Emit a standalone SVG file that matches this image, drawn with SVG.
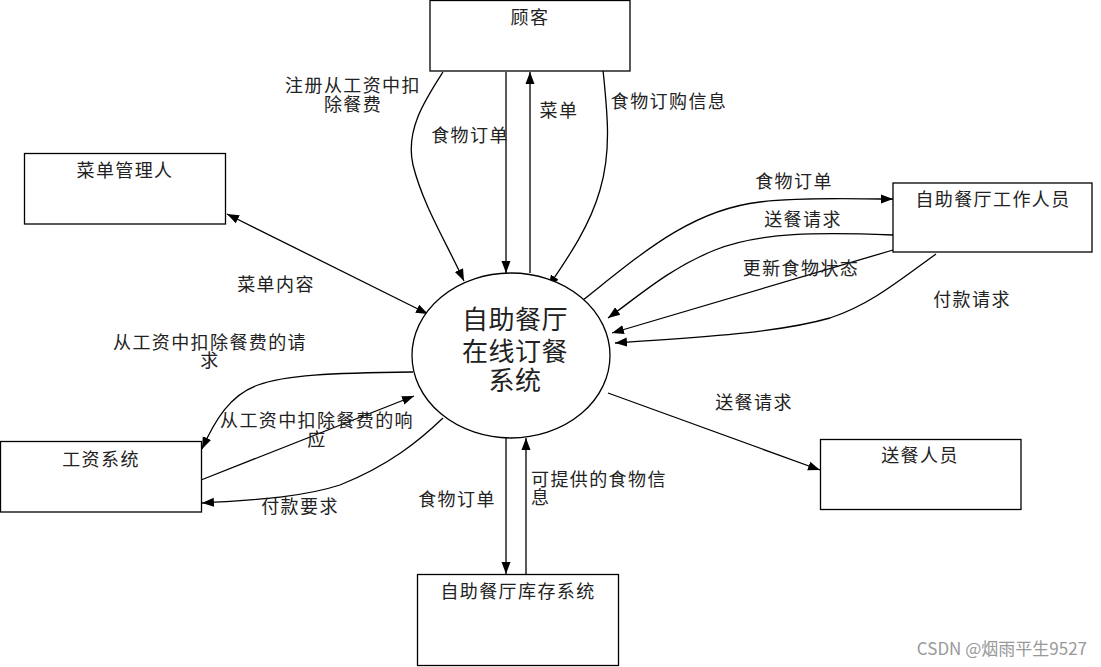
<svg xmlns="http://www.w3.org/2000/svg" width="1101" height="667" viewBox="0 0 1101 667">
<style>
.box{fill:#fff;stroke:#000;stroke-width:1.3}
.t{font-family:"Noto Sans CJK SC","Liberation Sans",sans-serif;font-size:18px;letter-spacing:1.4px;fill:#222;text-anchor:middle}
.l{text-anchor:start}
.big{font-size:26px;letter-spacing:0.5px}
.c{fill:none;stroke:#000;stroke-width:1.3;marker-end:url(#a)}
.wm{font-family:"Noto Sans CJK SC","Liberation Sans",sans-serif;font-size:17px;fill:#999;text-anchor:end}
</style>
<defs>
<marker id="a" viewBox="0 0 12 12" refX="12" refY="6" markerWidth="12" markerHeight="12" markerUnits="userSpaceOnUse" orient="auto-start-reverse">
<path d="M0,1.5 L12,6 L0,10.5z" fill="#000"/>
</marker>
</defs>
<rect width="1101" height="667" fill="#fff"/>
<g id="connectors">
<path class="c" d="M443,72 C425,100 405,130 413,165 C423,205 445,240 464,281"/>
<path class="c" d="M506,72 L506,273"/>
<path class="c" d="M530,273 L530,72"/>
<path class="c" d="M603,70 C607,110 612,150 600,190 C590,225 570,255 548,287"/>
<path class="c" style="marker-start:url(#a)" d="M227,214 L428,314"/>
<path class="c" d="M583,300 C640,255 690,210 760,202 C800,197 850,199 893,199"/>
<path class="c" d="M893,235 C820,232 760,232 715,250 C670,268 640,295 608,318"/>
<path class="c" d="M893,250 L612,333"/>
<path class="c" d="M936,254 C900,280 870,305 830,318 C770,335 680,338 615,343"/>
<path class="c" d="M413,372 C330,373 285,375 258,385 C230,395 215,420 202,449"/>
<path class="c" d="M201,480 L414,396"/>
<path class="c" d="M443,418 C420,440 390,465 340,485 C300,498 250,500 202,503"/>
<path class="c" d="M506,438 L506,574"/>
<path class="c" d="M526,574 L526,438"/>
<path class="c" d="M608,393 L820,470"/>
</g>
<g id="customer"><rect class="box" x="430" y="0.5" width="200" height="70.5"/><text class="t" x="530" y="24">顾客</text></g>
<g id="menu-manager"><rect class="box" x="24.5" y="153.5" width="201" height="70.5"/><text class="t" x="125" y="177">菜单管理人</text></g>
<g id="staff"><rect class="box" x="893" y="183" width="199" height="69"/><text class="t" x="993" y="206">自助餐厅工作人员</text></g>
<g id="delivery"><rect class="box" x="820.5" y="439.5" width="200.5" height="70"/><text class="t" x="920" y="462">送餐人员</text></g>
<g id="payroll"><rect class="box" x="0.5" y="441.5" width="201" height="70.5"/><text class="t" x="101" y="466">工资系统</text></g>
<g id="inventory"><rect class="box" x="417.5" y="574.5" width="201" height="91"/><text class="t" x="518" y="598">自助餐厅库存系统</text></g>
<g id="system"><ellipse class="box" cx="511" cy="355.5" rx="99" ry="82.5"/>
<text class="t big" x="515" y="329">自助餐厅<tspan x="515" y="361">在线订餐</tspan><tspan x="515" y="390">系统</tspan></text></g>
<g id="labels">
<text class="t" x="353" y="92">注册从工资中扣<tspan x="353" y="111">除餐费</tspan></text>
<text class="t" x="470" y="142">食物订单</text>
<text class="t" x="559" y="117">菜单</text>
<text class="t" x="669" y="108">食物订购信息</text>
<text class="t" x="276" y="291">菜单内容</text>
<text class="t" x="794" y="188">食物订单</text>
<text class="t" x="803" y="226">送餐请求</text>
<text class="t" x="801" y="275">更新食物状态</text>
<text class="t" x="972" y="306">付款请求</text>
<text class="t" x="210" y="349">从工资中扣除餐费的请<tspan x="210" y="367">求</tspan></text>
<text class="t" x="317" y="427">从工资中扣除餐费的响<tspan x="317" y="446">应</tspan></text>
<text class="t" x="300" y="513">付款要求</text>
<text class="t" x="457" y="506">食物订单</text>
<text class="t l" x="531" y="486">可提供的食物信<tspan x="531" y="504">息</tspan></text>
<text class="t" x="754" y="409">送餐请求</text>
</g>
<text class="wm" x="1087" y="655">CSDN @烟雨平生9527</text>
</svg>
